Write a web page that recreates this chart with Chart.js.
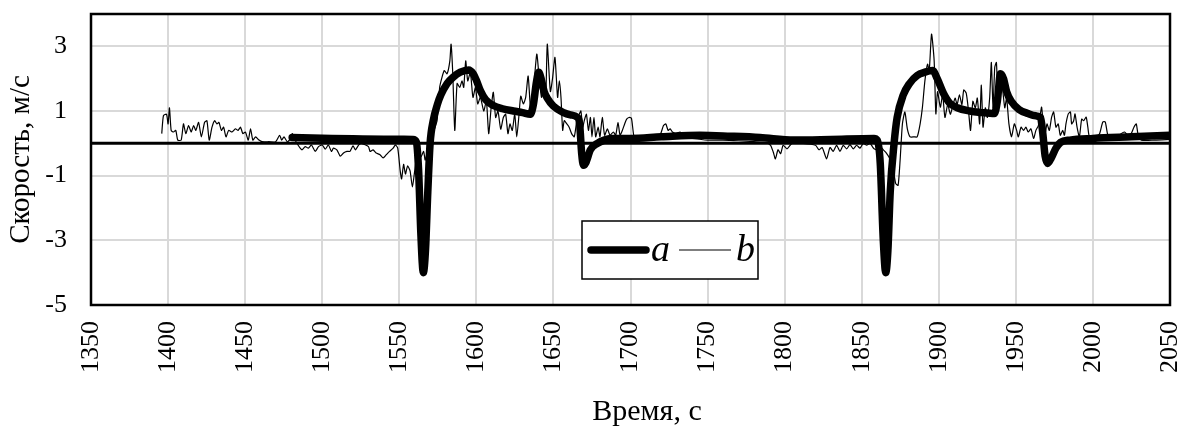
<!DOCTYPE html>
<html>
<head>
<meta charset="utf-8">
<script src="https://cdn.jsdelivr.net/npm/chart.js@4.4.1/dist/chart.umd.min.js"></script>
<style>
html,body{margin:0;padding:0;background:#fff;}
#wrap{width:1184px;height:427px;}
</style>
</head>
<body>
<div id="wrap"><canvas id="c" width="1184" height="427"></canvas></div>
<script>
// ---- data ----
const xTicks = [1350,1400,1450,1500,1550,1600,1650,1700,1750,1800,1850,1900,1950,2000,2050];
const yTicks = [-5,-3,-1,1,3];
const xTitle = 'Время, с';
const yTitle = 'Скорость, м/с';
const seriesNames = ['a','b'];

const aTime = [1480.5,1500,1520,1540,1559,1561,1562.5,1564,1565.6,1567,1568.5,1570,1572,1574.7,1577,1581,1585,1589.6,1595,1598,1600,1602.6,1606,1611,1617,1624,1630,1635,1637,1639,1640.5,1642,1644,1646,1650,1656.6,1661,1665.6,1667,1668.3,1669.5,1671,1674,1678.6,1683,1687,1700,1720,1745,1765,1784,1806,1830,1858,1860,1862,1864,1865.6,1867,1868.5,1871,1873,1877,1881,1886,1891,1896,1899,1903,1907,1912,1920,1928,1936,1938,1940,1942,1944,1947,1952,1958,1963,1966,1967.5,1969,1970.6,1973,1976,1979,1985,2000,2025,2050];
const aSpeed = [0.18,0.16,0.14,0.13,0.12,0.05,-0.8,-2.8,-4.0,-3.3,-1.5,0.0,0.7,1.2,1.5,1.85,2.05,2.2,2.27,2.15,1.95,1.63,1.35,1.17,1.07,1.0,0.95,0.9,1.2,1.9,2.2,2.0,1.6,1.4,1.15,0.95,0.88,0.8,0.6,-0.3,-0.68,-0.6,-0.2,0.0,0.1,0.15,0.15,0.2,0.25,0.22,0.18,0.1,0.12,0.15,0.1,-0.6,-3.0,-4.0,-3.3,-1.5,0.0,0.8,1.5,1.85,2.1,2.2,2.25,2.0,1.55,1.25,1.1,1.0,0.95,0.92,1.3,2.15,2.0,1.6,1.3,1.05,0.92,0.85,0.8,0.3,-0.4,-0.62,-0.45,-0.15,0.03,0.1,0.15,0.2,0.25];

const bTime = [1395.9,1397,1399,1400,1400.9,1402,1403.5,1405,1406.3,1408.5,1410,1411.5,1413.3,1415,1416.6,1418,1419.8,1421.6,1423.7,1425.2,1426.7,1428.5,1430.2,1431.7,1433,1434.6,1436,1437.6,1439.3,1441.5,1443.7,1445.4,1447,1448.5,1450.2,1452,1453.5,1455,1456.8,1459,1461,1465.4,1469.8,1472.4,1473.7,1475.2,1477.4,1479.5,1480.6,1483,1486.8,1489,1491,1493,1495.5,1497.6,1500,1502,1504,1506,1507.3,1509.5,1511.7,1513.8,1516,1518,1520,1521.5,1523.7,1525.5,1530,1531,1533,1535,1537.5,1539.5,1541.6,1543.7,1546,1547.5,1549,1550.6,1551.5,1552.8,1554,1555.4,1557,1558.5,1560,1561,1562.5,1564,1565.8,1566.8,1568.5,1570.5,1572.5,1574.5,1576.2,1577.7,1579.2,1581,1582.8,1583.6,1584.7,1586,1587.5,1589.2,1590.7,1591.8,1593.1,1594.4,1596.1,1597.8,1599.4,1600.9,1602.6,1604.8,1606.5,1608,1609.6,1611,1612.5,1614,1615.8,1617.5,1619,1620.5,1621.8,1623.3,1624.9,1626.2,1627.7,1628.8,1630.5,1632,1633.6,1635.3,1637,1639.2,1640.7,1642.3,1643.5,1645,1646,1648,1649.4,1651,1652.7,1653.8,1654.9,1656,1657,1658.7,1660.2,1661.8,1663.5,1665.2,1666.7,1667.8,1669,1670,1671.4,1672.7,1674,1675,1676.3,1677.4,1679,1680.2,1681.7,1683.2,1685,1686.7,1688.9,1690.4,1691.9,1693.2,1694.7,1696.2,1697.5,1699,1700.6,1702.3,1704.5,1710,1717.5,1719.6,1721.4,1722.9,1724.4,1725.7,1727.2,1729.4,1732.2,1733.7,1740,1750,1760,1770,1780,1788,1790.9,1792.6,1794,1795.7,1797.4,1799,1801.5,1803.6,1805,1812,1820,1822.3,1824.4,1827.2,1829.4,1831.5,1833.7,1835.9,1838,1840.2,1842.4,1844.5,1846.7,1848.9,1851,1853.2,1855.4,1856.9,1858,1860,1862,1864,1866,1868,1869.9,1872,1873.6,1874.9,1876.4,1878,1879.6,1881.4,1884,1886,1887.9,1889.4,1891,1892.7,1893.8,1895.3,1897,1898.1,1899.2,1901,1902.5,1904,1905.8,1907.5,1909,1910.6,1911.9,1913.4,1915,1916.2,1917.8,1919.3,1920.6,1922.1,1923.7,1925,1926.5,1927.6,1928.7,1930.2,1931.5,1933,1934.1,1935.2,1936.3,1937.4,1938.4,1940.6,1942.8,1944,1945.5,1947.2,1949,1950.5,1951.6,1953.4,1955,1956.5,1958,1959.8,1961.5,1963,1964.6,1965.9,1966.7,1968,1969,1970.2,1971.7,1973.2,1974.5,1976,1977.5,1978.8,1980.4,1981.5,1982.5,1984,1985.4,1986.2,1987.5,1988.4,1989.7,1991.2,1992.7,1994,1995.6,1996.7,1997.8,2002,2004.3,2006.4,2008,2009.7,2011.8,2016.2,2018.3,2020.5,2022.7,2024.8,2026.6,2028.1,2029.2,2031.4,2040,2050];
const bSpeed = [0.3,0.86,0.9,0.6,1.1,0.4,0.35,0.4,0.1,0.1,0.6,0.3,0.55,0.35,0.55,0.4,0.65,0.2,0.65,0.7,0.1,0.5,0.7,0.6,0.65,0.4,0.5,0.2,0.4,0.35,0.45,0.4,0.5,0.3,0.35,0.1,0.45,0.1,0.2,0.1,0.05,0.05,0.05,0.25,0.1,0.2,0.05,0.15,0.3,0.05,-0.2,-0.1,-0.15,-0.05,-0.25,-0.1,-0.05,-0.18,-0.05,-0.25,-0.15,-0.2,-0.4,-0.3,-0.25,-0.25,-0.08,-0.2,-0.05,0.0,-0.1,-0.25,-0.2,-0.3,-0.35,-0.45,-0.35,-0.25,-0.15,-0.05,-0.15,-0.85,-1.1,-0.65,-0.95,-0.7,-0.85,-1.35,-0.85,-0.5,-0.3,-0.42,-0.25,-0.52,-0.2,0.1,0.4,0.7,1.73,2.04,2.25,2.15,2.55,3.07,2.15,0.4,1.85,1.73,1.93,1.73,2.55,1.93,2.2,1.42,1.73,1.22,1.42,1.0,1.32,0.3,1.1,1.58,0.8,1.0,0.44,0.8,0.9,0.3,0.6,0.4,0.9,0.2,0.9,1.46,1.22,1.42,2.08,1.0,1.6,2.76,2.05,1.42,2.1,1.42,3.07,1.6,2.0,2.66,1.42,1.93,1.42,0.4,0.7,0.6,0.5,0.3,0.2,0.7,0.9,1.0,0.5,0.7,0.9,0.4,0.8,0.2,0.8,0.2,0.5,0.2,0.8,0.25,0.45,0.25,0.35,0.25,0.65,0.25,0.4,0.6,0.75,0.8,0.78,0.2,0.15,0.15,0.2,0.3,0.55,0.6,0.4,0.45,0.35,0.3,0.35,0.2,0.15,0.1,0.1,0.08,0.05,0.02,-0.06,-0.27,-0.48,-0.2,-0.32,-0.06,-0.17,-0.06,0.0,0.0,-0.06,-0.2,-0.13,-0.48,-0.13,-0.25,-0.06,-0.25,-0.06,-0.17,-0.04,-0.17,-0.06,-0.15,0.0,-0.06,0.0,-0.1,-0.17,-0.2,-0.1,-0.2,-0.3,-0.45,-0.63,-1.24,-1.3,-0.53,0.6,0.97,0.45,0.2,0.2,0.2,0.6,1.12,1.94,2.45,2.25,3.38,2.55,0.91,1.6,1.12,1.5,0.8,1.2,0.9,1.15,1.4,1.2,1.5,1.2,1.65,1.55,1.0,0.4,1.3,1.1,1.4,0.6,1.8,0.5,1.1,0.8,1.4,2.5,1.1,2.35,2.5,1.4,1.95,1.1,1.4,0.6,0.2,0.6,0.4,0.2,0.5,0.4,0.5,0.35,0.45,0.15,0.4,0.55,0.91,1.12,0.5,0.3,0.6,0.4,0.81,0.97,0.5,0.6,0.25,0.4,0.25,0.6,0.91,0.97,0.6,0.7,0.91,0.5,0.2,0.75,0.7,0.81,0.5,0.2,0.2,0.3,0.66,0.66,0.25,0.2,0.2,0.3,0.35,0.25,0.3,0.5,0.6,0.3,0.1,0.1,0.12];

// ---- chart ----
const FONT = "'Liberation Serif', 'Times New Roman', serif";

const decorPlugin = {
  id: 'decor',
  beforeDatasetsDraw(chart) {
    const {ctx, chartArea, scales} = chart;
    const y0 = scales.y.getPixelForValue(0);
    ctx.save();
    ctx.strokeStyle = '#000';
    ctx.lineWidth = 3;
    ctx.beginPath();
    ctx.moveTo(chartArea.left, y0);
    ctx.lineTo(chartArea.right, y0);
    ctx.stroke();
    ctx.restore();
  },
  afterDatasetsDraw(chart) {
    const {ctx, chartArea} = chart;
    const {left, right, top, bottom} = chartArea;
    ctx.save();
    ctx.strokeStyle = '#000';
    ctx.lineWidth = 2.5;
    ctx.strokeRect(left, top, right - left, bottom - top);

    // legend box
    const bx = left + 491, by = top + 207, bw = 176, bh = 58;
    ctx.fillStyle = '#fff';
    ctx.fillRect(bx, by, bw, bh);
    ctx.lineWidth = 1.5;
    ctx.strokeRect(bx, by, bw, bh);
    const cy = by + 29;
    let x = bx + 9;
    ctx.font = "italic 38px " + FONT;
    ctx.textBaseline = 'middle';
    ctx.textAlign = 'left';
    chart.data.datasets.forEach((ds, i) => {
      const len = i === 0 ? 55 : 52;
      ctx.beginPath();
      ctx.lineWidth = ds.borderWidth;
      ctx.lineCap = i === 0 ? 'round' : 'butt';
      ctx.strokeStyle = ds.borderColor;
      ctx.moveTo(x, cy);
      ctx.lineTo(x + len, cy);
      ctx.stroke();
      x += len + 5;
      ctx.fillStyle = '#000';
      ctx.fillText(ds.label, x, cy + 1);
      x += ctx.measureText(ds.label).width + 9;
    });

    // x axis title
    ctx.font = "30px " + FONT;
    ctx.fillStyle = '#000';
    ctx.textAlign = 'center';
    ctx.textBaseline = 'middle';
    ctx.fillText(xTitle, left + 556, 412);
    ctx.restore();
  }
};

new Chart(document.getElementById('c'), {
  type: 'line',
  data: {
    datasets: [
      {
        label: seriesNames[0],
        data: aTime.map((t, i) => ({x: t, y: aSpeed[i]})),
        borderColor: '#000',
        borderWidth: 7.5,
        pointRadius: 0,
        cubicInterpolationMode: 'monotone',
        borderJoinStyle: 'round',
        borderCapStyle: 'round',
        fill: false,
        order: 1
      },
      {
        label: seriesNames[1],
        data: bTime.map((t, i) => ({x: t, y: bSpeed[i]})),
        borderColor: '#000',
        borderWidth: 1.2,
        pointRadius: 0,
        tension: 0.2,
        fill: false,
        order: 0
      }
    ]
  },
  options: {
    responsive: false,
    animation: false,
    layout: {padding: {top: 14, right: 14, left: 0, bottom: 0}},
    plugins: {legend: {display: false}, tooltip: {enabled: false}},
    scales: {
      x: {
        type: 'linear',
        min: 1350, max: 2050,
        afterBuildTicks: (s) => { s.ticks = xTicks.map(v => ({value: v})); },
        afterFit: (s) => { s.height = 122; s.paddingLeft = 0; s.paddingRight = 0; },
        grid: {color: '#d9d9d9', lineWidth: 2, drawTicks: false},
        border: {display: false},
        ticks: {
          minRotation: 90, maxRotation: 90, padding: 16,
          color: '#000',
          font: {family: FONT, size: 26},
          callback: (v) => String(v)
        },
        title: {display: false}
      },
      y: {
        type: 'linear',
        min: -5, max: 4,
        afterBuildTicks: (s) => { s.ticks = yTicks.map(v => ({value: v})); },
        afterFit: (s) => { s.width = 91; s.paddingTop = 0; s.paddingBottom = 0; },
        grid: {color: '#d9d9d9', lineWidth: 2, drawTicks: false},
        border: {display: false},
        ticks: {
          padding: 24, color: '#000',
          font: {family: FONT, size: 26},
          callback: (v) => String(v)
        },
        title: {display: true, text: yTitle, color: '#000', font: {family: FONT, size: 29}, padding: {top: 4, bottom: 0}}
      }
    }
  },
  plugins: [decorPlugin]
});
</script>
</body>
</html>
